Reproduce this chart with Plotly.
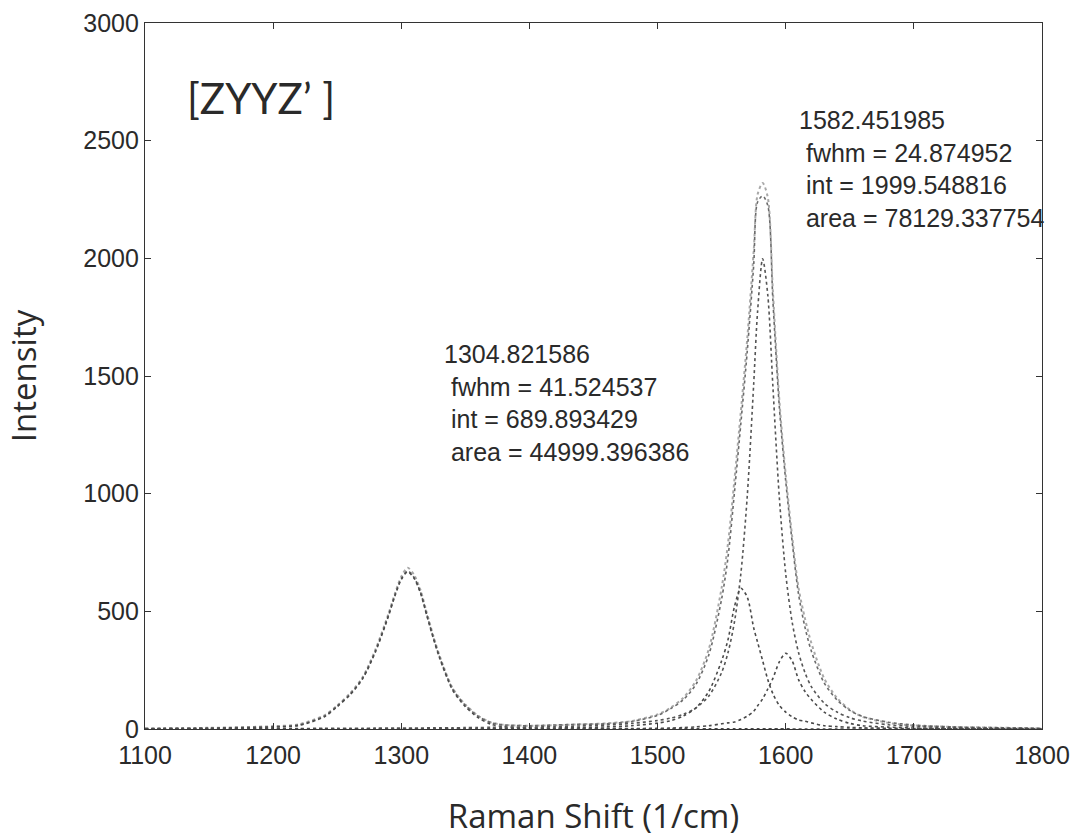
import plotly.graph_objects as go

# ---- data ----
shift = [1100, 1150, 1200, 1220, 1240, 1250, 1260, 1270, 1280, 1290,
         1295, 1300, 1305, 1310, 1315, 1320, 1325, 1330, 1340, 1350,
         1360, 1370, 1380, 1400, 1420, 1440, 1460, 1480, 1500, 1510,
         1520, 1530, 1540, 1550, 1555, 1560, 1565, 1570, 1575, 1578,
         1582, 1586, 1590, 1595, 1600, 1605, 1610, 1615, 1620, 1630,
         1640, 1650, 1660, 1680, 1700, 1730, 1760, 1800]

measured = [3, 5, 12, 20, 58, 100, 152, 222, 340, 490,
            575, 648, 685, 655, 590, 492, 396, 310, 175, 104,
            56, 28, 18, 14, 16, 20, 24, 34, 62, 90,
            132, 205, 340, 600, 790, 1060, 1350, 1660, 2030, 2270,
            2320, 2260, 1860, 1400, 1080, 820, 600, 470, 365, 215,
            132, 82, 52, 26, 15, 9, 6, 3]

fit_total = [2, 4, 10, 17, 55, 98, 148, 218, 334, 484,
             569, 639, 672, 644, 581, 485, 390, 305, 171, 101,
             54, 27, 17, 14, 17, 20, 22, 32, 58, 86,
             124, 190, 315, 553, 732, 1006, 1299, 1606, 1970, 2238,
             2265, 2225, 1820, 1370, 1054, 797, 573, 433, 331, 196,
             124, 79, 53, 29, 17, 9, 6, 2]

peak_d = [1, 3, 8, 15, 52, 95, 145, 215, 330, 480,
          565, 635, 668, 640, 577, 480, 385, 300, 166, 95,
          48, 20, 10, 5, 3, 2, 2, 1, 1, 1,
          1, 1, 1, 1, 1, 1, 1, 1, 1, 1,
          1, 1, 1, 1, 1, 0, 0, 0, 0, 0,
          0, 0, 0, 0, 0, 0, 0, 0]

peak_g = [1, 1, 2, 2, 3, 3, 3, 3, 4, 4,
          4, 4, 4, 4, 4, 5, 5, 5, 5, 6,
          6, 7, 7, 8, 10, 13, 17, 24, 36, 46,
          62, 90, 140, 240, 325, 455, 660, 990, 1465, 1770,
          1998, 1845, 1455, 985, 660, 455, 325, 240, 180, 110,
          72, 48, 34, 18, 11, 6, 4, 2]

peak_1566 = [0, 0, 0, 0, 0, 0, 0, 0, 0, 0,
             0, 0, 0, 0, 0, 0, 0, 0, 0, 0,
             0, 1, 1, 1, 4, 6, 9, 14, 25, 35,
             55, 90, 160, 290, 380, 520, 598, 560, 430, 370,
             290, 210, 150, 100, 72, 52, 38, 33, 26, 14,
             10, 7, 5, 3, 2, 1, 1, 0]

peak_1600 = [0, 0, 0, 0, 0, 0, 0, 0, 0, 0,
             0, 0, 0, 0, 0, 0, 0, 0, 0, 0,
             0, 0, 0, 0, 0, 0, 1, 2, 3, 4,
             6, 9, 14, 22, 26, 30, 40, 55, 75, 98,
             128, 170, 215, 285, 322, 290, 210, 160, 125, 72,
             42, 24, 14, 8, 4, 2, 1, 0]

x_ticks = [1100, 1200, 1300, 1400, 1500, 1600, 1700, 1800]
y_ticks = [0, 500, 1000, 1500, 2000, 2500, 3000]

label_pol = "[ZYYZ\u2019 ]"
label_d = ["1304.821586", "\u00a0fwhm = 41.524537", "\u00a0int = 689.893429", "\u00a0area = 44999.396386"]
label_g = ["1582.451985", "\u00a0fwhm = 24.874952", "\u00a0int = 1999.548816", "\u00a0area = 78129.337754"]

# ---- figure ----
fig = go.Figure()

series = [
    ("measured", measured, "#a8a8a8", 2.0),
    ("fit", fit_total, "#6a6a6a", 1.6),
    ("D", peak_d, "#4a4a4a", 1.6),
    ("G", peak_g, "#555555", 1.6),
    ("1566", peak_1566, "#4a4a4a", 1.6),
    ("1600", peak_1600, "#4a4a4a", 1.6),
]
for name, ys, col, w in series:
    fig.add_trace(go.Scatter(
        x=shift, y=ys, mode="lines", name=name,
        line=dict(color=col, width=w, dash="dot", shape="spline", smoothing=0.8),
        showlegend=False, hoverinfo="skip",
    ))

ann_font = dict(family="Liberation Sans, Arial, sans-serif", size=25, color="#2a2a2a")
fig.add_annotation(x=1131, y=2680, xref="x", yref="y", text=label_pol,
                   showarrow=False, xanchor="left", yanchor="middle",
                   font=dict(family="Lato, sans-serif", size=42, color="#2a2a2a"))
fig.add_annotation(x=1331.5, y=1660, xref="x", yref="y", text="<br>".join(label_d),
                   showarrow=False, xanchor="left", yanchor="top", align="left",
                   font=ann_font)
fig.add_annotation(x=1609, y=2655, xref="x", yref="y", text="<br>".join(label_g),
                   showarrow=False, xanchor="left", yanchor="top", align="left",
                   font=ann_font)

axis_common = dict(
    showline=True, linecolor="#333333", linewidth=1.2, mirror="ticks",
    ticks="inside", ticklen=6, tickcolor="#333333", tickwidth=1,
    showgrid=False, zeroline=False,
    tickfont=dict(family="Liberation Sans, Arial, sans-serif", size=25, color="#2a2a2a"),
)

fig.update_xaxes(range=[1100, 1800], tickvals=x_ticks, ticktext=[str(v) for v in x_ticks],
                 ticklabelstandoff=4,
                 title=dict(text="Raman Shift (1/cm)", standoff=36,
                            font=dict(family="Open Sans, sans-serif", size=33, color="#2a2a2a")),
                 **axis_common)
fig.update_yaxes(range=[0, 3000], tickvals=y_ticks, ticktext=[str(v) for v in y_ticks],
                 title=dict(text="Intensity", standoff=36,
                            font=dict(family="Open Sans, sans-serif", size=33, color="#2a2a2a")),
                 **axis_common)

fig.update_layout(
    width=1076, height=838,
    margin=dict(l=145, r=34, t=23, b=109, autoexpand=False),
    paper_bgcolor="white", plot_bgcolor="white",
)

fig.write_html("out.html")
